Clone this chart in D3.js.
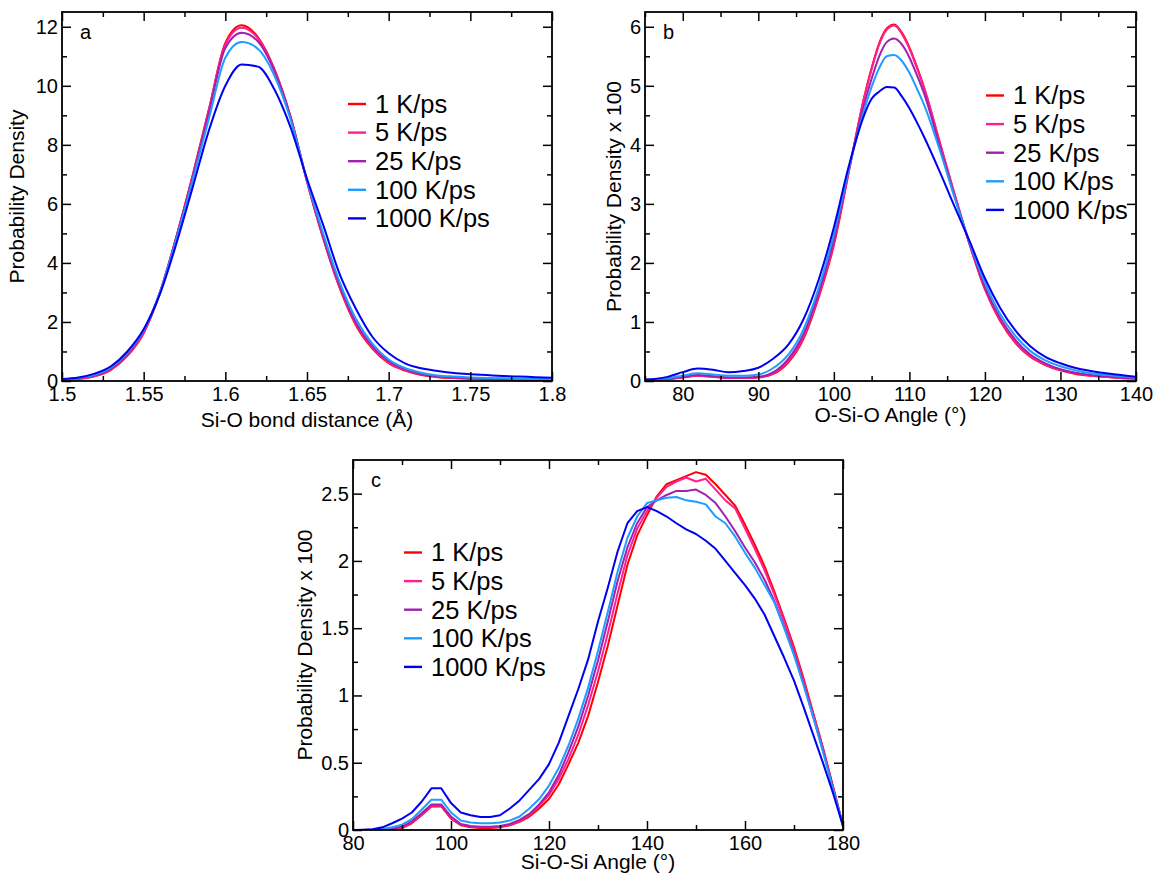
<!DOCTYPE html>
<html lang="en">
<head>
<meta charset="UTF-8">
<title>Si-O structure vs quench rate</title>
<script src="https://cdn.jsdelivr.net/npm/d3@7"></script>
<style>
  body { margin: 0; background: #fff; }
  svg { font-family: "Liberation Sans", Arial, Helvetica, sans-serif; }
</style>
</head>
<body>
<svg id="chart" width="1156" height="876"></svg>
<script>
// legend / series
var rates = ['1 K/ps', '5 K/ps', '25 K/ps', '100 K/ps', '1000 K/ps'];
var colors = ['#ff0000', '#ff1f8e', '#a020b0', '#1e9cff', '#0000f0'];

/********** panel a : Si-O bond distance **********/
var bondX = [1.50,1.51,1.52,1.53,1.54,1.55,1.56,1.57,1.58,1.59,1.60,
             1.61,1.62,1.63,1.64,1.65,1.66,1.67,1.68,1.69,1.70,
             1.71,1.72,1.73,1.74,1.75,1.76,1.77,1.78,1.79,1.80];
var bond1    = [0.03,0.07,0.16,0.38,0.85,1.62,2.98,4.88,6.97,9.22,11.45, 12.05,11.64,10.57,8.94,6.75,4.81,3.15,1.88,1.10,0.60, 0.35,0.20,0.13,0.10,0.08,0.06,0.05,0.04,0.04,0.03];
var bond5    = [0.03,0.08,0.17,0.40,0.88,1.65,3.00,4.88,6.95,9.20,11.40, 11.97,11.60,10.55,8.93,6.76,4.84,3.18,1.92,1.13,0.63, 0.37,0.22,0.14,0.10,0.08,0.06,0.05,0.04,0.04,0.03];
var bond25   = [0.04,0.09,0.19,0.43,0.92,1.70,3.02,4.87,6.90,9.10,11.28, 11.80,11.50,10.50,8.92,6.78,4.88,3.24,1.98,1.18,0.67, 0.40,0.24,0.16,0.12,0.09,0.07,0.06,0.05,0.05,0.04];
var bond100  = [0.05,0.10,0.21,0.46,0.96,1.72,3.00,4.80,6.80,8.90,10.95, 11.48,11.25,10.35,8.85,6.80,4.98,3.35,2.10,1.27,0.73, 0.44,0.28,0.19,0.15,0.12,0.10,0.09,0.08,0.07,0.06];
var bond1000 = [0.07,0.12,0.25,0.50,1.00,1.75,2.95,4.65,6.56,8.50,10.00, 10.72,10.65,9.88,8.58,6.85,5.27,3.62,2.44,1.50,0.94, 0.60,0.43,0.34,0.27,0.23,0.20,0.17,0.15,0.13,0.11];
var bondXTicks = [1.5,1.55,1.6,1.65,1.7,1.75,1.8];
var bondXMinor = [1.525,1.575,1.625,1.675,1.725,1.775];
var bondYTicks = [0,2,4,6,8,10,12];
var bondYMinor = [1,3,5,7,9,11];

/********** panel b : O-Si-O angle **********/
var osioX = [75,76,78,80,82,84,86,88,90,92,94,96,98,100,102,104,105,106,107,108,109,110,111,112,114,116,118,120,122,124,126,128,130,132,134,136,138,140];
var osio1    = [0.02,0.02,0.03,0.06,0.09,0.07,0.05,0.05,0.06,0.12, 0.32,0.72,1.42,2.30,3.55, 4.80,5.30,5.72,5.97,6.04,5.90,5.65,5.32,4.95, 4.05,3.15,2.30,1.55,1.02,0.65,0.41,0.27,0.18,0.12,0.09,0.07,0.05,0.04];
var osio5    = [0.02,0.02,0.03,0.06,0.09,0.075,0.05,0.05,0.065,0.13, 0.34,0.75,1.45,2.33,3.57, 4.79,5.28,5.70,5.95,6.02,5.88,5.63,5.30,4.94, 4.05,3.16,2.31,1.57,1.04,0.66,0.42,0.28,0.19,0.13,0.09,0.07,0.05,0.04];
var osio25   = [0.02,0.02,0.04,0.07,0.10,0.08,0.06,0.06,0.07,0.15, 0.38,0.80,1.50,2.40,3.60, 4.68,5.12,5.50,5.74,5.80,5.70,5.48,5.18,4.85, 3.98,3.12,2.32,1.60,1.07,0.70,0.45,0.30,0.20,0.14,0.10,0.08,0.06,0.05];
var osio100  = [0.02,0.03,0.05,0.09,0.13,0.11,0.09,0.09,0.11,0.22, 0.45,0.88,1.58,2.48,3.60, 4.58,4.98,5.30,5.50,5.52,5.42,5.22,4.95,4.66, 3.92,3.10,2.34,1.66,1.14,0.77,0.51,0.35,0.25,0.18,0.13,0.10,0.08,0.06];
var osio1000 = [0.02,0.03,0.07,0.15,0.21,0.19,0.15,0.17,0.225,0.38, 0.62,1.05,1.72,2.60,3.65, 4.50,4.78,4.90,4.98,4.97,4.82,4.62,4.38,4.12, 3.55,2.95,2.36,1.74,1.24,0.86,0.59,0.41,0.30,0.22,0.17,0.13,0.10,0.07];
var osioXTicks = [80,90,100,110,120,130,140];
var osioXMinor = [75,85,95,105,115,125,135];
var osioYTicks = [0,1,2,3,4,5,6];
var osioYMinor = [0.5,1.5,2.5,3.5,4.5,5.5];

/********** panel c : Si-O-Si angle **********/
var siosiX = [80,82,84,86,88,90,92,94,96,98,100,102,104,106,108,110,112,114,116,118,120,122,124,126,128,130,132,134,136,138,140,142,144,146,148,150,152,154,156,158,160,162,164,166,168,170,172,174,176,178,180];
var siosi1    = [0,0,0,0.002,0.005,0.015,0.05,0.11,0.175,0.175, 0.085,0.035,0.02,0.015,0.015,0.02,0.035,0.06,0.10,0.16, 0.23,0.34,0.49,0.65,0.85,1.10,1.37,1.67,1.97,2.19, 2.34,2.48,2.57,2.60,2.63,2.66,2.64,2.57,2.49,2.41, 2.27,2.12,1.96,1.77,1.57,1.36,1.12,0.86,0.60,0.32,0.03];
var siosi5    = [0,0,0,0.002,0.007,0.02,0.055,0.115,0.18,0.18, 0.09,0.04,0.025,0.02,0.02,0.025,0.04,0.065,0.11,0.18, 0.26,0.38,0.53,0.71,0.93,1.18,1.46,1.76,2.04,2.24, 2.37,2.47,2.55,2.59,2.62,2.59,2.61,2.53,2.45,2.39, 2.24,2.09,1.93,1.75,1.55,1.34,1.10,0.85,0.59,0.31,0.03];
var siosi25   = [0,0,0.001,0.003,0.01,0.025,0.065,0.125,0.19,0.19, 0.10,0.045,0.03,0.025,0.025,0.03,0.045,0.075,0.12,0.19, 0.28,0.41,0.58,0.77,1.00,1.26,1.55,1.85,2.10,2.28, 2.40,2.45,2.49,2.52,2.52,2.53,2.49,2.43,2.33,2.22, 2.10,1.99,1.86,1.70,1.51,1.31,1.08,0.83,0.58,0.31,0.03];
var siosi100  = [0,0,0.002,0.008,0.02,0.04,0.08,0.15,0.225,0.225, 0.13,0.07,0.055,0.05,0.05,0.055,0.07,0.10,0.16,0.23, 0.33,0.46,0.63,0.83,1.06,1.33,1.62,1.92,2.17,2.33, 2.43,2.45,2.47,2.475,2.45,2.44,2.42,2.33,2.28,2.18, 2.06,1.95,1.82,1.69,1.50,1.30,1.07,0.83,0.57,0.30,0.03];
var siosi1000 = [0,0.002,0.005,0.02,0.05,0.085,0.13,0.21,0.31,0.31, 0.20,0.13,0.11,0.097,0.097,0.11,0.16,0.22,0.30,0.38, 0.49,0.65,0.85,1.05,1.27,1.55,1.80,2.07,2.28,2.37, 2.40,2.37,2.33,2.28,2.235,2.20,2.15,2.09,2.00,1.91, 1.82,1.72,1.60,1.44,1.28,1.11,0.91,0.70,0.49,0.27,0.03];
var siosiXTicks = [80,100,120,140,160,180];
var siosiXMinor = [90,110,130,150,170];
var siosiYTicks = [0,0.5,1,1.5,2,2.5];
var siosiYMinor = [0.25,0.75,1.25,1.75,2.25];

var panels = [
  { letter: 'a', xs: bondX, series: [bond1, bond5, bond25, bond100, bond1000],
    xDomain: [1.5, 1.8], yDomain: [0, 12.5],
    xTicks: bondXTicks, xMinor: bondXMinor, yTicks: bondYTicks, yMinor: bondYMinor,
    xTitle: 'Si-O bond distance (Å)', yTitle: 'Probability Density',
    left: 62, right: 552, top: 12, bottom: 381,
    xTitleY: 427, yTitleX: 24, legendX: 348, legendY: 104, curve: d3.curveMonotoneX },
  { letter: 'b', xs: osioX, series: [osio1, osio5, osio25, osio100, osio1000],
    xDomain: [75, 140], yDomain: [0, 6.25],
    xTicks: osioXTicks, xMinor: osioXMinor, yTicks: osioYTicks, yMinor: osioYMinor,
    xTitle: 'O-Si-O Angle (°)', yTitle: 'Probability Density x 100',
    left: 645, right: 1136, top: 12, bottom: 381,
    xTitleY: 422, yTitleX: 621, legendX: 986, legendY: 95.5, curve: d3.curveMonotoneX },
  { letter: 'c', xs: siosiX, series: [siosi1, siosi5, siosi25, siosi100, siosi1000],
    xDomain: [80, 180], yDomain: [0, 2.75],
    xTicks: siosiXTicks, xMinor: siosiXMinor, yTicks: siosiYTicks, yMinor: siosiYMinor,
    xTitle: 'Si-O-Si Angle (°)', yTitle: 'Probability Density x 100',
    left: 353, right: 843, top: 460, bottom: 830,
    xTitleY: 869, yTitleX: 312, legendX: 404, legendY: 552.5, curve: d3.curveLinear }
];

var svg = d3.select('#chart');

function styleAxis(sel, labels) {
  sel.select('.domain').remove();
  sel.attr('font-size', 20).attr('font-family', null);
  sel.selectAll('line').attr('stroke', '#000').attr('stroke-width', 1.5);
  sel.selectAll('text').attr('fill', '#000');
  if (!labels) sel.selectAll('text').remove();
}

function drawPanel(p, k) {
  var x = d3.scaleLinear().domain(p.xDomain).range([p.left, p.right]);
  var y = d3.scaleLinear().domain(p.yDomain).range([p.bottom, p.top]);
  var g = svg.append('g').attr('class', 'panel-' + p.letter);

  g.append('clipPath').attr('id', 'clip' + k)
    .append('rect')
    .attr('x', p.left).attr('y', p.top)
    .attr('width', p.right - p.left).attr('height', p.bottom - p.top);

  var line = d3.line()
    .x((d, i) => x(p.xs[i]))
    .y(d => y(d))
    .curve(p.curve);

  g.append('g').attr('clip-path', 'url(#clip' + k + ')')
    .selectAll('path')
    .data(p.series)
    .enter()
    .append('path')
    .attr('d', line)
    .attr('fill', 'none')
    .attr('stroke', (d, i) => colors[i])
    .attr('stroke-width', 2)
    .attr('stroke-linejoin', 'round');

  // major ticks with labels, minor ticks, mirrored on top / right
  g.append('g').attr('transform', 'translate(0,' + p.bottom + ')')
    .call(d3.axisBottom(x).tickValues(p.xTicks).tickSize(-9).tickPadding(6).tickFormat(d => d))
    .call(s => styleAxis(s, true));
  g.append('g').attr('transform', 'translate(0,' + p.bottom + ')')
    .call(d3.axisBottom(x).tickValues(p.xMinor).tickSize(-5)).call(s => styleAxis(s, false));
  g.append('g').attr('transform', 'translate(0,' + p.top + ')')
    .call(d3.axisTop(x).tickValues(p.xTicks).tickSize(-9)).call(s => styleAxis(s, false));
  g.append('g').attr('transform', 'translate(0,' + p.top + ')')
    .call(d3.axisTop(x).tickValues(p.xMinor).tickSize(-5)).call(s => styleAxis(s, false));

  g.append('g').attr('transform', 'translate(' + p.left + ',0)')
    .call(d3.axisLeft(y).tickValues(p.yTicks).tickSize(-9).tickPadding(4).tickFormat(d => d))
    .call(s => styleAxis(s, true));
  g.append('g').attr('transform', 'translate(' + p.left + ',0)')
    .call(d3.axisLeft(y).tickValues(p.yMinor).tickSize(-5)).call(s => styleAxis(s, false));
  g.append('g').attr('transform', 'translate(' + p.right + ',0)')
    .call(d3.axisRight(y).tickValues(p.yTicks).tickSize(-9)).call(s => styleAxis(s, false));
  g.append('g').attr('transform', 'translate(' + p.right + ',0)')
    .call(d3.axisRight(y).tickValues(p.yMinor).tickSize(-5)).call(s => styleAxis(s, false));

  g.append('rect')
    .attr('x', p.left).attr('y', p.top)
    .attr('width', p.right - p.left).attr('height', p.bottom - p.top)
    .attr('fill', 'none').attr('stroke', '#000').attr('stroke-width', 1.8);

  // titles
  g.append('text')
    .attr('x', (p.left + p.right) / 2).attr('y', p.xTitleY)
    .attr('text-anchor', 'middle').attr('font-size', 21)
    .text(p.xTitle);
  g.append('text')
    .attr('transform', 'translate(' + p.yTitleX + ',' + (p.top + p.bottom) / 2 + ') rotate(-90)')
    .attr('text-anchor', 'middle').attr('font-size', 21)
    .text(p.yTitle);
  g.append('text')
    .attr('x', p.left + 18).attr('y', p.top + 26.5)
    .attr('font-size', 20)
    .text(p.letter);

  // legend
  var leg = g.append('g').selectAll('g')
    .data(rates)
    .enter()
    .append('g')
    .attr('transform', (d, i) => 'translate(' + p.legendX + ',' + (p.legendY + i * 28.6) + ')');
  leg.append('line')
    .attr('x1', 0).attr('x2', 18).attr('y1', 0).attr('y2', 0)
    .attr('stroke', (d, i) => colors[i]).attr('stroke-width', 2.4);
  leg.append('text')
    .attr('x', 27).attr('y', 8.8)
    .attr('font-size', 25.5)
    .text(d => d);
}

panels.forEach(drawPanel);
</script>
</body>
</html>
